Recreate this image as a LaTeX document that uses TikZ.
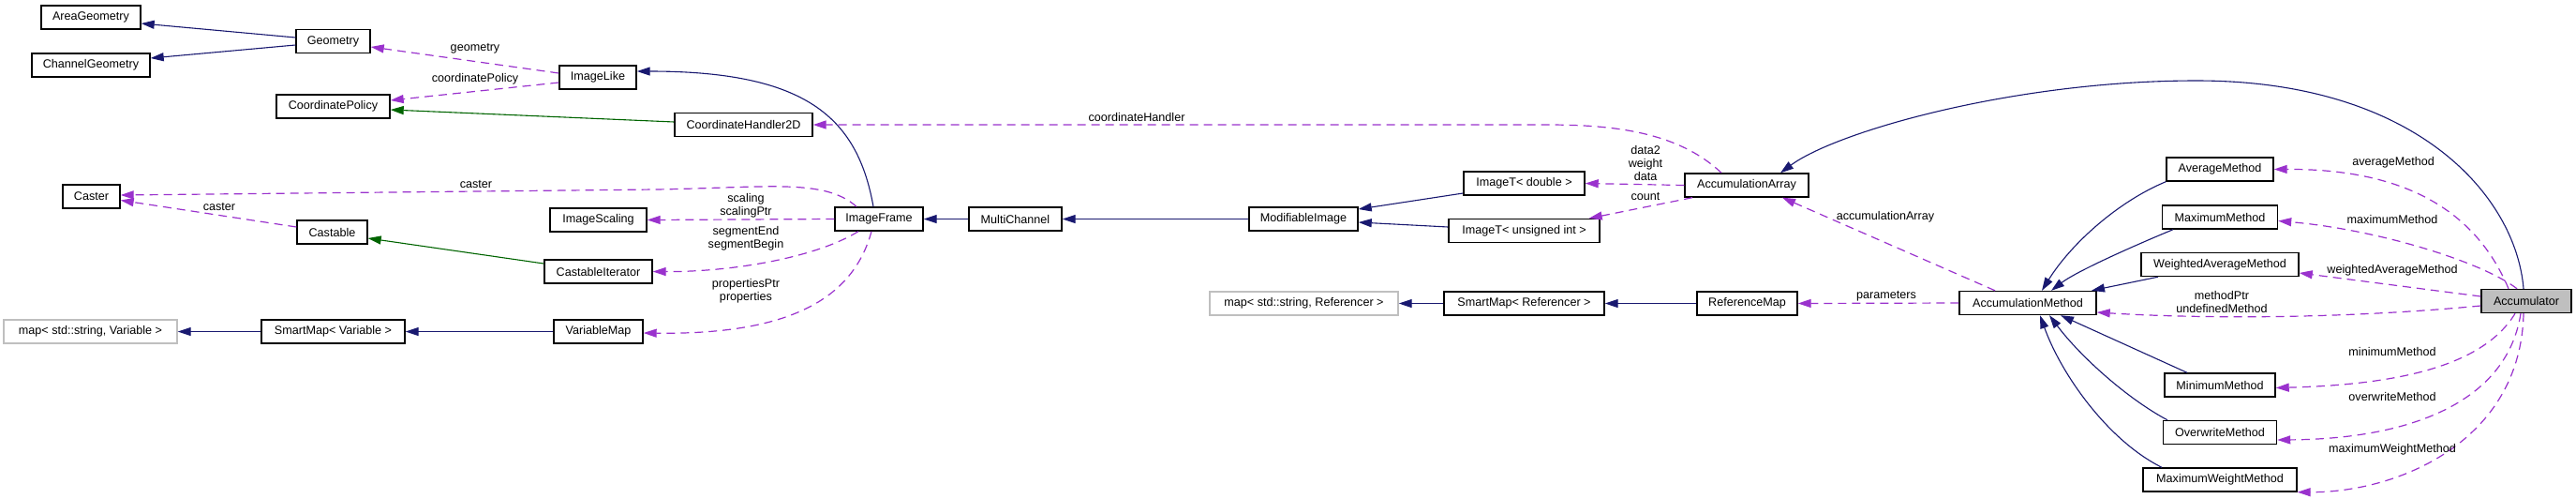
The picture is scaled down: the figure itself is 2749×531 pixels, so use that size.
\documentclass[tikz,border=0pt]{standalone}
\usepackage{fontspec}
\setmainfont{Liberation Sans}
\usetikzlibrary{arrows.meta}
\definecolor{inhblue}{HTML}{191970}
\definecolor{protgreen}{HTML}{006400}
\definecolor{usepurple}{HTML}{9A32CD}
\definecolor{extgray}{HTML}{BFBFBF}
\begin{document}
\begin{tikzpicture}[x=1pt,y=-1pt,
  cls/.style={draw=black, line width=1.4pt, fill=white, minimum height=25pt, inner sep=0pt, font=\fontsize{12.6}{14}\selectfont},
  ext/.style={cls, draw=extgray},
  cur/.style={cls, fill=extgray},
  lbl/.style={font=\fontsize{12.6}{14}\selectfont, align=center, inner sep=0pt},
  tip/.style={-{Triangle[length=14pt,width=9pt]}},
  inh/.style={draw=inhblue, line width=1.1pt, tip},
  prot/.style={draw=protgreen, line width=1.1pt, tip},
  use/.style={draw=usepurple, line width=1.2pt, dash pattern=on 9pt off 6pt, tip}]
\useasboundingbox (0,0) rectangle (2749,531);
% nodes
\node[cls, minimum width=106pt] (area) at (97,18.5) {AreaGeometry};
\node[cls, minimum width=126pt] (chan) at (97,69.5) {ChannelGeometry};
\node[cls, minimum width=79pt] (geom) at (355.5,44) {Geometry};
\node[cls, minimum width=121pt] (coordpol) at (355.5,113.5) {CoordinatePolicy};
\node[cls, minimum width=82pt] (imglike) at (638,82.5) {ImageLike};
\node[cls, minimum width=61pt] (caster) at (97.5,209.5) {Caster};
\node[cls, minimum width=75pt] (castable) at (354.5,247.5) {Castable};
\node[cls, minimum width=103pt] (imgscal) at (638.5,234.5) {ImageScaling};
\node[cls, minimum width=115pt] (castit) at (638.5,289.5) {CastableIterator};
\node[ext, minimum width=185pt] (mapv) at (96.5,353.5) {map< std::string, Variable >};
\node[cls, minimum width=153pt] (smv) at (355.5,353.5) {SmartMap< Variable >};
\node[cls, minimum width=95pt] (varmap) at (638.5,353.5) {VariableMap};
\node[cls, minimum width=147pt] (ch2d) at (793.5,133) {CoordinateHandler2D};
\node[cls, minimum width=94pt] (imgframe) at (938,233.5) {ImageFrame};
\node[cls, minimum width=99pt] (multi) at (1083.5,233.5) {MultiChannel};
\node[cls, minimum width=116pt] (modimg) at (1391,233.5) {ModifiableImage};
\node[ext, minimum width=201pt] (mapr) at (1391.5,323.5) {map< std::string, Referencer >};
\node[cls, minimum width=129pt] (imgTd) at (1626.5,195.5) {ImageT< double >};
\node[cls, minimum width=161pt] (imgTu) at (1626.5,246) {ImageT< unsigned int >};
\node[cls, minimum width=171pt] (smr) at (1626.5,323.5) {SmartMap< Referencer >};
\node[cls, minimum width=132pt] (accarr) at (1864,197.5) {AccumulationArray};
\node[cls, minimum width=107pt] (refmap) at (1864.5,323.5) {ReferenceMap};
\node[cls, minimum width=146pt] (accmeth) at (2164,323) {AccumulationMethod};
\node[cls, minimum width=114pt] (avg) at (2369,180.5) {AverageMethod};
\node[cls, minimum width=123pt] (maxm) at (2369,231.5) {MaximumMethod};
\node[cls, minimum width=168pt] (wavg) at (2369,282) {WeightedAverageMethod};
\node[cls, minimum width=118pt] (minm) at (2369,410.5) {MinimumMethod};
\node[cls, minimum width=121pt] (overw) at (2369,461) {OverwriteMethod};
\node[cls, minimum width=164pt] (maxw) at (2369,511.5) {MaximumWeightMethod};
\node[cur, minimum width=96pt] (accum) at (2696,321) {Accumulator};
% edges left part
\draw[inh] ([yshift=4pt]geom.west) -- ([yshift=-6.5pt]area.east);
\draw[inh] ([yshift=-4pt]geom.west) -- ([yshift=7.5pt]chan.east);
\draw[use] ([yshift=4.5pt]imglike.west) -- ([yshift=-6pt]geom.east);
\draw[use] ([yshift=-5.5pt]imglike.west) -- ([yshift=6.5pt]coordpol.east);
\draw[prot] ([yshift=3pt]ch2d.west) -- ([yshift=-3.5pt]coordpol.east);
\draw[inh] ([xshift=-6pt]imgframe.north) .. controls (915,125) and (860,76) .. ([yshift=6.5pt]imglike.east);
\draw[use] ([xshift=-24pt]imgframe.north) .. controls (880,190) and (820,200) .. (700,202) -- ([yshift=1.5pt]caster.east);
\draw[use] ([yshift=5.5pt]castable.west) -- ([yshift=-4pt]caster.east);
\draw[prot] ([yshift=8.5pt]castit.west) -- ([yshift=-6.5pt]castable.east);
\draw[use] (imgframe.west) -- (imgscal.east);
\draw[use] ([xshift=-22pt]imgframe.south) .. controls (870,275) and (780,290) .. (castit.east);
\draw[use] ([xshift=-8pt]imgframe.south) .. controls (910,320) and (840,357) .. ([yshift=-1.5pt]varmap.east);
\draw[inh] (varmap.west) -- (smv.east);
\draw[inh] (smv.west) -- (mapv.east);
\draw[inh] (modimg.west) -- (multi.east);
\draw[inh] (multi.west) -- (imgframe.east);
\draw[inh] ([yshift=-10.5pt]imgTd.west) -- ([yshift=10.5pt]modimg.east);
\draw[inh] ([yshift=4pt]imgTu.west) -- ([yshift=-3.5pt]modimg.east);
\draw[inh] (refmap.west) -- (smr.east);
\draw[inh] (smr.west) -- (mapr.east);
% AccumulationArray edges
\draw[use] ([xshift=-27pt]accarr.north) .. controls (1790,140) and (1720,133) .. (1650,133) -- (ch2d.east);
\draw[use] (accarr.west) -- (imgTd.east);
\draw[use] ([xshift=-58pt]accarr.south) -- ([xshift=-12pt]imgTu.north east);
\draw[inh] ([xshift=-3pt]accum.north) .. controls (2685,210) and (2580,86) .. (2344,86) .. controls (2150,86) and (1960,140) .. ([xshift=36pt]accarr.north);
% AccumulationMethod edges
\draw[use] (accmeth.west) -- (refmap.east);
\draw[use] ([xshift=-35pt]accmeth.north) -- ([xshift=38pt]accarr.south);
\draw[inh] (avg.south west) .. controls (2260,215) and (2210,260) .. ([xshift=15pt]accmeth.north);
\draw[inh] ([xshift=-50pt]maxm.south) .. controls (2270,265) and (2215,290) .. ([xshift=25pt]accmeth.north);
\draw[inh] ([xshift=-66pt]wavg.south) -- ([xshift=68pt]accmeth.north);
\draw[inh] ([xshift=-35pt]minm.north) -- ([xshift=35pt]accmeth.south);
\draw[inh] ([xshift=-56pt]overw.north) .. controls (2270,425) and (2220,380) .. ([xshift=23pt]accmeth.south);
\draw[inh] ([xshift=-62pt]maxw.north) .. controls (2250,470) and (2200,400) .. ([xshift=13pt]accmeth.south);
% Accumulator edges
\draw[use] ([xshift=-19pt]accum.north) .. controls (2640,220) and (2560,180) .. (avg.east);
\draw[use] ([xshift=-10pt]accum.north) .. controls (2650,280) and (2540,245) .. ([yshift=-4pt]maxm.east);
\draw[use] ([yshift=5pt]accum.west) -- ([yshift=-9pt]wavg.east);
\draw[use] ([yshift=-5pt]accum.west) .. controls (2500,340) and (2350,340) .. ([yshift=-10pt]accmeth.east);
\draw[use] ([xshift=-12pt]accum.south) .. controls (2650,390) and (2560,410) .. ([yshift=-3pt]minm.east);
\draw[use] ([xshift=-6pt]accum.south) .. controls (2675,430) and (2570,468) .. ([yshift=-8pt]overw.east);
\draw[use] ([xshift=-3pt]accum.south) .. controls (2690,470) and (2560,525) .. (maxw.south east);
% labels
\node[lbl] (l1) at (507,52) {geometry};
\node[lbl] (l2) at (507,84) {coordinatePolicy};
\node[lbl] (l3) at (508,196) {caster};
\node[lbl] (l4) at (234,220) {caster};
\node[lbl] (l5) at (796,219) {scaling\\scalingPtr};
\node[lbl] (l6) at (796,254) {segmentEnd\\segmentBegin};
\node[lbl] (l7) at (796,310) {propertiesPtr\\properties};
\node[lbl] (l8) at (1213,125) {coordinateHandler};
\node[lbl] (l9) at (1756,174) {data2\\weight\\data};
\node[lbl] (l10) at (1756,209) {count};
\node[lbl] (l11) at (2012,231) {accumulationArray};
\node[lbl] (l12) at (2013,316) {parameters};
\node[lbl] (l13) at (2554,173) {averageMethod};
\node[lbl] (l14) at (2553,234) {maximumMethod};
\node[lbl] (l15) at (2553,288) {weightedAverageMethod};
\node[lbl] (l16) at (2371,321.5) {methodPtr\\undefinedMethod};
\node[lbl] (l17) at (2553,375) {minimumMethod};
\node[lbl] (l18) at (2553,423) {overwriteMethod};
\node[lbl] (l19) at (2553,479) {maximumWeightMethod};
\end{tikzpicture}
\end{document}
